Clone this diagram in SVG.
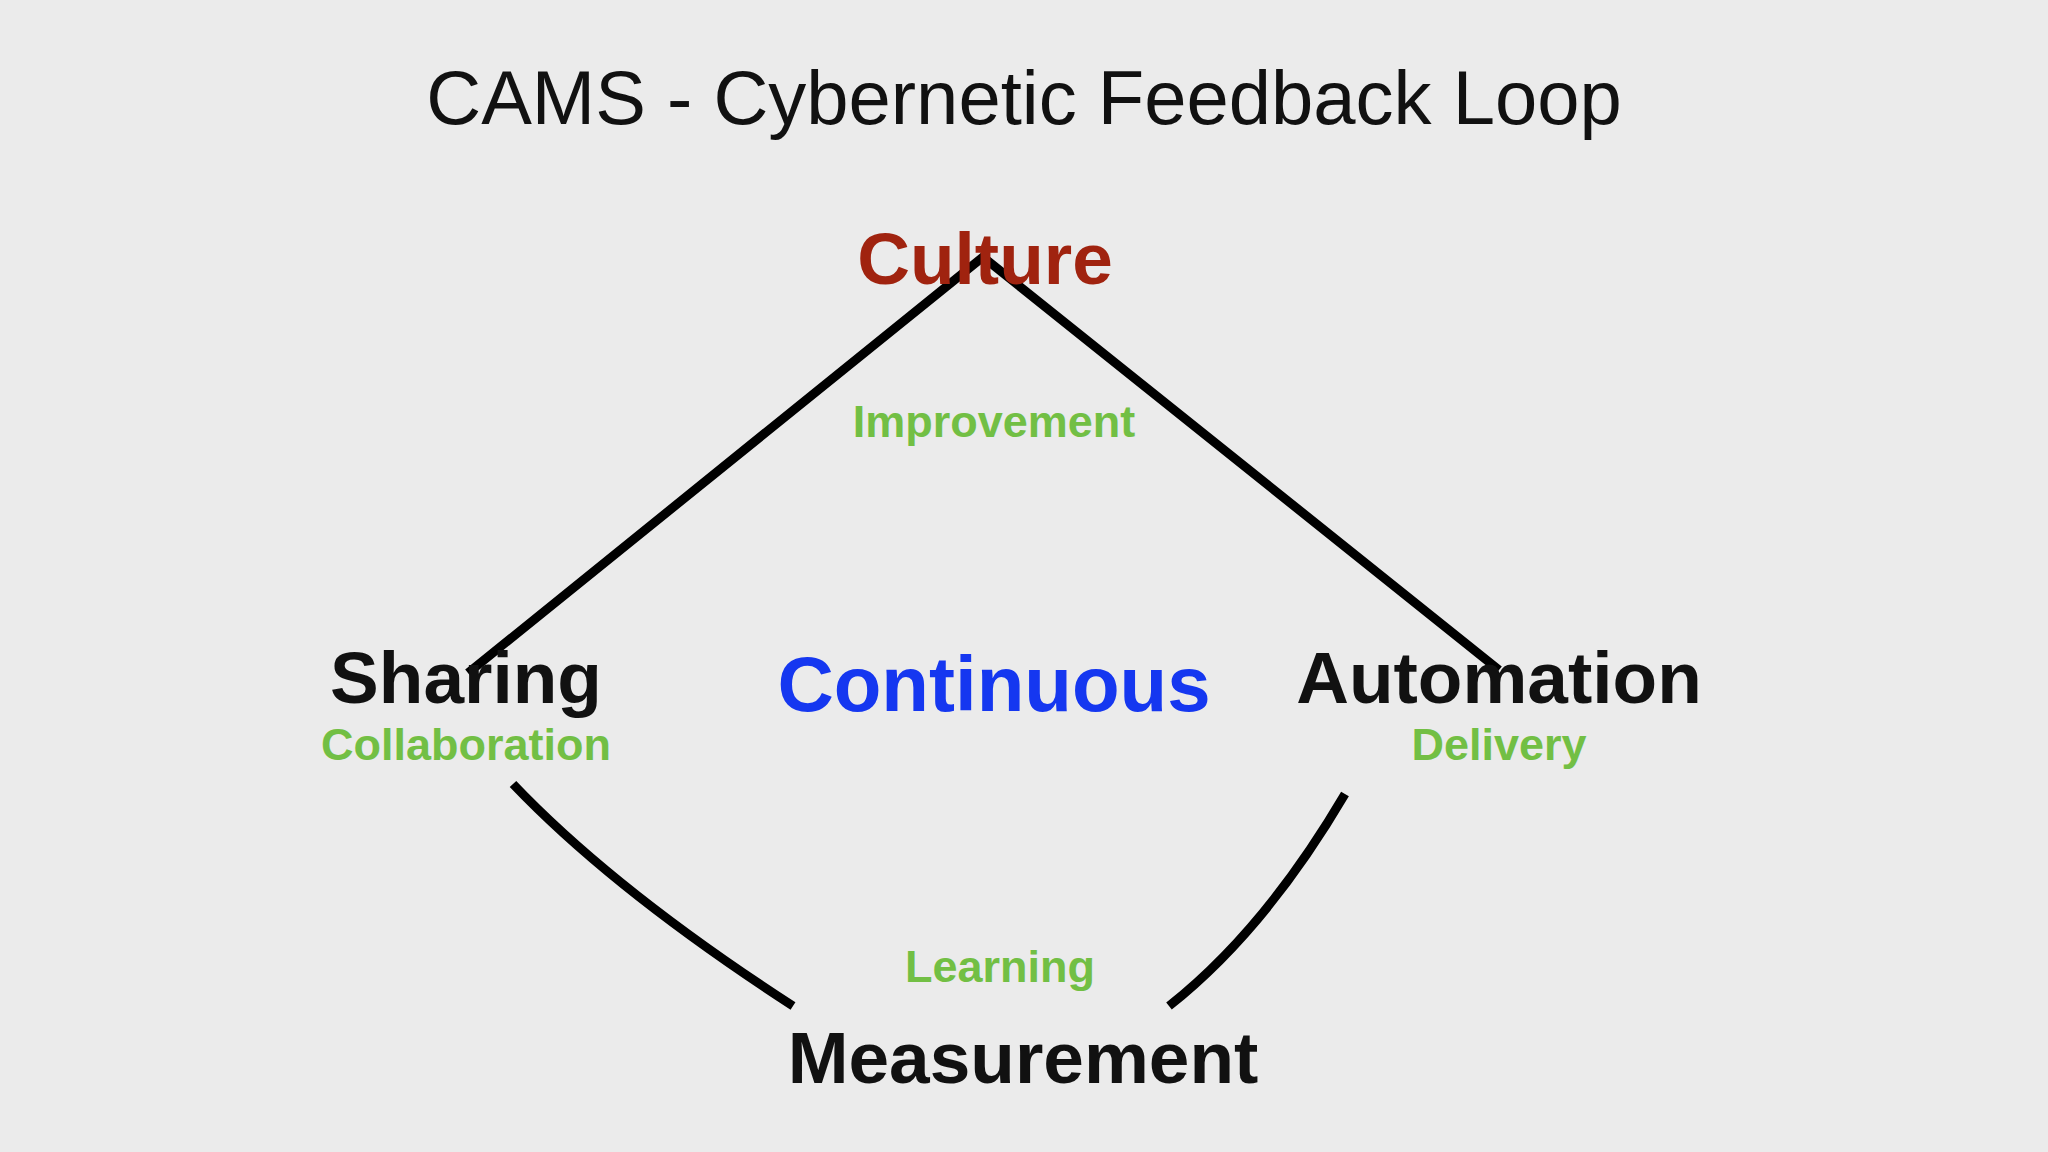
<svg xmlns="http://www.w3.org/2000/svg" width="2048" height="1152" viewBox="0 0 2048 1152">
<style>
text{font-family:"Liberation Sans",Arial,sans-serif;text-anchor:middle}
.n{font-weight:bold;font-size:73px;fill:#111}
.g{font-weight:bold;font-size:45px;fill:#72bf44}
.c{fill:none;stroke:#000;stroke-width:9}
</style>
<rect width="2048" height="1152" fill="#ebebeb"/>
<text x="1024" y="124" font-size="76" fill="#111">CAMS - Cybernetic Feedback Loop</text>
<g id="connectors">
<polyline class="c" points="468,673 983,257 1499,670"/>
<path class="c" d="M513,784 Q614,890 793,1006"/>
<path class="c" d="M1345,794 Q1265,930 1169,1006"/>
</g>
<g id="culture"><text class="n" x="985" y="284" fill="#a0230f" style="fill:#a0230f">Culture</text></g>
<g id="improvement"><text class="g" x="994" y="437">Improvement</text></g>
<g id="sharing"><text class="n" x="466" y="703">Sharing</text><text class="g" x="466" y="760">Collaboration</text></g>
<g id="continuous"><text class="n" x="994" y="711" style="fill:#1537f0;font-size:78px">Continuous</text></g>
<g id="automation"><text class="n" x="1499" y="703">Automation</text><text class="g" x="1499" y="760">Delivery</text></g>
<g id="learning"><text class="g" x="1000" y="982">Learning</text></g>
<g id="measurement"><text class="n" x="1023" y="1083">Measurement</text></g>
</svg>
